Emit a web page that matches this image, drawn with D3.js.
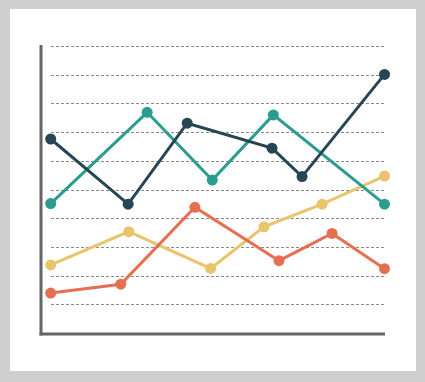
<!DOCTYPE html>
<html lang="en">
<head>
    <meta charset="UTF-8">
    <title>Line Chart</title>
    <script src="https://d3js.org/d3.v7.min.js"></script>
    <style>
        body { margin: 0; background: #cfcfcf; }
        svg { display: block; }
    </style>
</head>
<body>
    <script>
        // x positions (0-100 across the plot) and values (0-10)
        const navyX = [0, 23.2, 40.9, 66.3, 75.3, 100];
        const navyY = [6.76, 4.49, 7.31, 6.44, 5.45, 9.01];
        const tealX = [0, 28.9, 48.4, 66.7, 100];
        const tealY = [4.51, 7.69, 5.33, 7.60, 4.49];
        const yellowX = [0, 23.4, 47.9, 63.9, 81.3, 100];
        const yellowY = [2.37, 3.53, 2.25, 3.70, 4.49, 5.47];
        const redX = [0, 21, 43.2, 68.4, 84.3, 100];
        const redY = [1.39, 1.70, 4.38, 2.52, 3.47, 2.24];
        const gridTicks = [1, 2, 3, 4, 5, 6, 7, 8, 9, 10];

        const series = [
            { color: "#e9c46a", xs: yellowX, ys: yellowY },
            { color: "#e76f51", xs: redX, ys: redY },
            { color: "#2a9d8f", xs: tealX, ys: tealY },
            { color: "#264653", xs: navyX, ys: navyY }
        ];

        const width = 425, height = 382;

        const svg = d3.select("body").append("svg")
            .attr("width", width)
            .attr("height", height);

        // white card
        svg.append("rect")
            .attr("x", 10).attr("y", 9)
            .attr("width", 406).attr("height", 362)
            .attr("fill", "#ffffff");

        const x = d3.scaleLinear().domain([0, 100]).range([50.7, 384.5]);
        const y = d3.scaleLinear().domain([0, 10]).range([333, 46]);

        // dashed gridlines
        svg.append("g")
            .selectAll("line")
            .data(gridTicks)
            .join("line")
            .attr("x1", 51).attr("x2", 385)
            .attr("y1", d => Math.round(y(d)) + 0.5)
            .attr("y2", d => Math.round(y(d)) + 0.5)
            .attr("stroke", "#8a8a8a")
            .attr("stroke-width", 1)
            .attr("stroke-dasharray", "3,2");

        // axes
        svg.append("line")
            .attr("x1", 41).attr("x2", 41)
            .attr("y1", 45).attr("y2", 335.5)
            .attr("stroke", "#666").attr("stroke-width", 3);
        svg.append("line")
            .attr("x1", 39.5).attr("x2", 385)
            .attr("y1", 334).attr("y2", 334)
            .attr("stroke", "#666").attr("stroke-width", 3);

        const line = d3.line()
            .x(d => x(d[0]))
            .y(d => y(d[1]));

        series.forEach(s => {
            const pts = s.xs.map((v, i) => [v, s.ys[i]]);
            const g = svg.append("g");
            g.append("path")
                .datum(pts)
                .attr("d", line)
                .attr("fill", "none")
                .attr("stroke", s.color)
                .attr("stroke-width", 3);
            g.selectAll("circle")
                .data(pts)
                .join("circle")
                .attr("cx", d => x(d[0]))
                .attr("cy", d => y(d[1]))
                .attr("r", 5.5)
                .attr("fill", s.color);
        });
    </script>
</body>
</html>
